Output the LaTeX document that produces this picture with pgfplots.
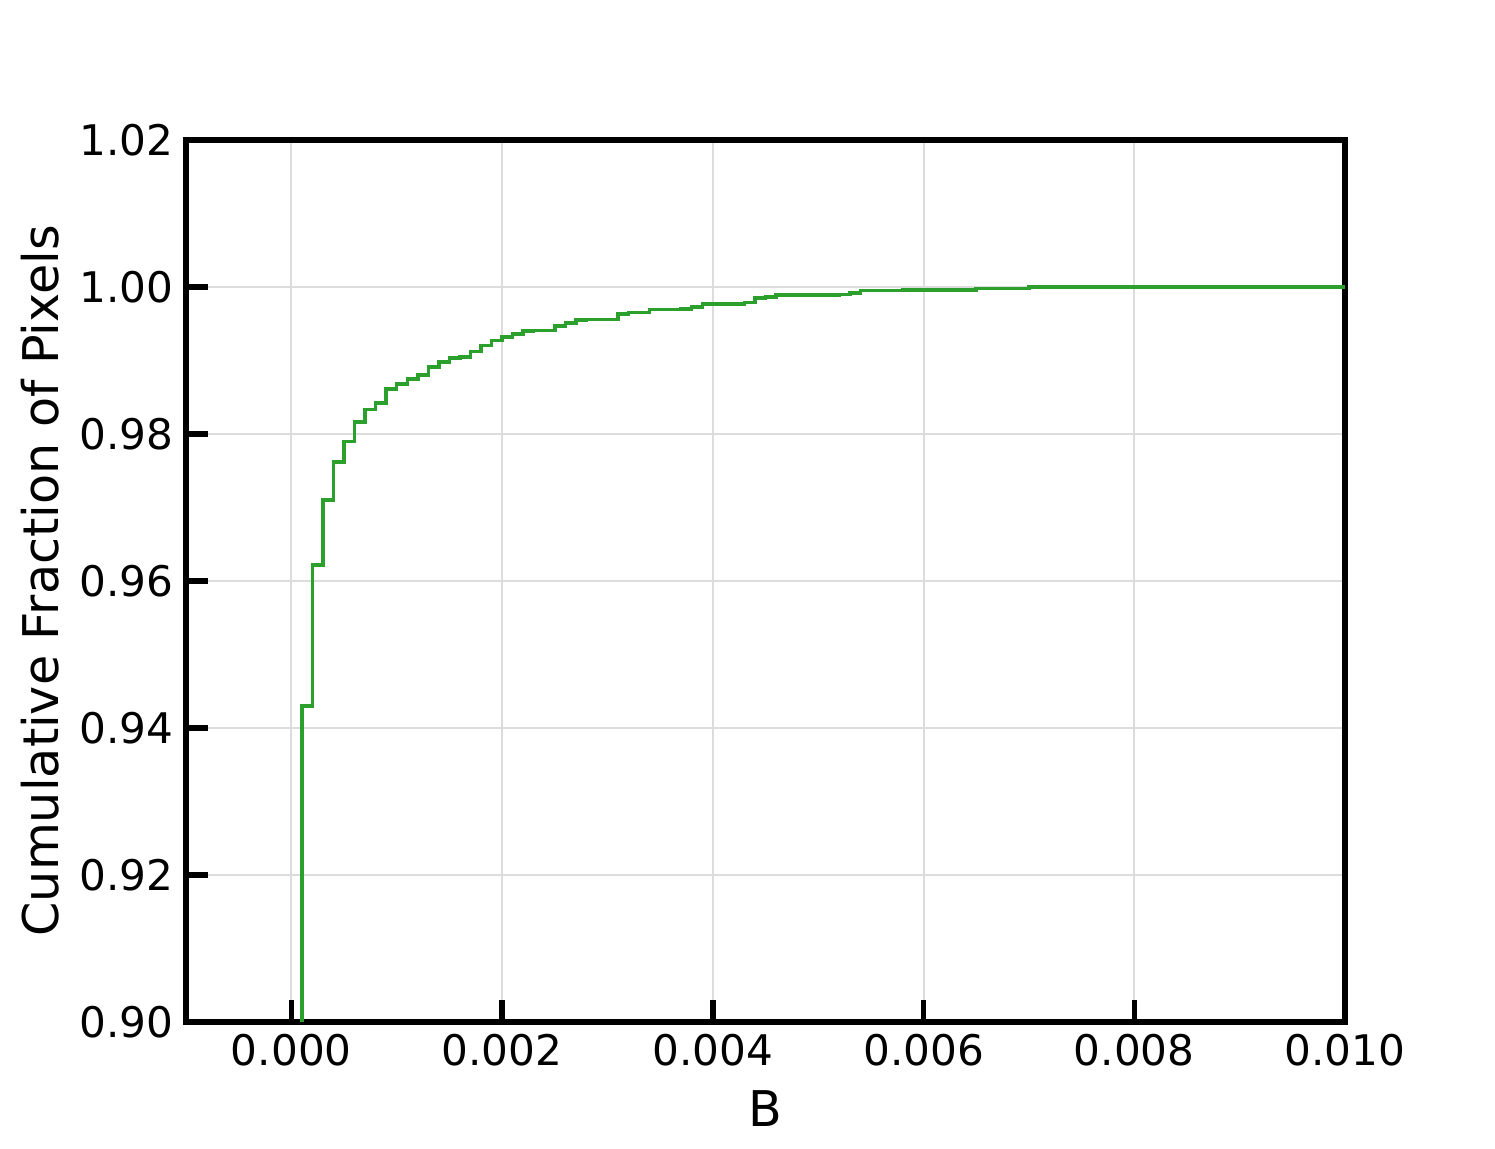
\documentclass[border=0pt]{standalone}
\usepackage{pgfplots}
\pgfplotsset{compat=1.18}
\usepackage{fontspec}
\setmainfont{DejaVu Sans}
\definecolor{mplgreen}{HTML}{2CA02C}
\definecolor{gridgray}{HTML}{DCDCDC}
\begin{document}
\begin{tikzpicture}
\begin{axis}[
  scale only axis,
  width=11.59cm, height=8.82cm,
  xmin=-0.001, xmax=0.010,
  ymin=0.90, ymax=1.02,
  xtick={0,0.002,0.004,0.006,0.008,0.010},
  ytick={0.90,0.92,0.94,0.96,0.98,1.00,1.02},
  scaled x ticks=false, scaled y ticks=false,
  xticklabel style={/pgf/number format/.cd, fixed, fixed zerofill, precision=3},
  yticklabel style={/pgf/number format/.cd, fixed, fixed zerofill, precision=2},
  /pgf/number format/assume math mode=true,
  tick label style={font=\fontsize{12}{14}\selectfont},
  label style={font=\fontsize{14}{16}\selectfont},
  xlabel={B}, ylabel={Cumulative Fraction of Pixels},
  ylabel style={xshift=0pt, yshift=-1pt},
  grid=major,
  major grid style={gridgray, line width=0.2mm},
  axis line style={line width=0.55mm, black},
  tick align=inside,
  xtick pos=bottom, ytick pos=left,
  major tick length=2.2mm,
  every tick/.style={black, line width=0.55mm},
  clip=true,
]
\addplot[const plot, mplgreen, line width=0.35mm] table {
x y
0.0000 0.5
0.0001 0.943
0.0002 0.9622
0.0003 0.9710
0.0004 0.9762
0.0005 0.9790
0.0006 0.9816
0.0007 0.9833
0.0008 0.9842
0.0009 0.9861
0.0010 0.9868
0.0011 0.9875
0.0012 0.9880
0.0013 0.9891
0.0014 0.9898
0.0015 0.9903
0.0016 0.9905
0.0017 0.9912
0.0018 0.9920
0.0019 0.9927
0.0020 0.9932
0.0021 0.9936
0.0022 0.9940
0.0023 0.9941
0.0025 0.9947
0.0026 0.9951
0.0027 0.9955
0.0028 0.9956
0.0031 0.9963
0.0032 0.9965
0.0034 0.9969
0.0037 0.9970
0.0038 0.9973
0.0039 0.9977
0.0043 0.9979
0.0044 0.9985
0.0045 0.9986
0.0046 0.9989
0.0052 0.9990
0.0053 0.9992
0.0054 0.9995
0.0058 0.9996
0.0065 0.9998
0.0070 1.0
0.0100 1.0
};
\end{axis}
\path[use as bounding box] ([shift={(-1.86cm,-1.27cm)}]current axis.south west) rectangle ([shift={(1.50cm,1.40cm)}]current axis.north east);
\end{tikzpicture}
\end{document}
